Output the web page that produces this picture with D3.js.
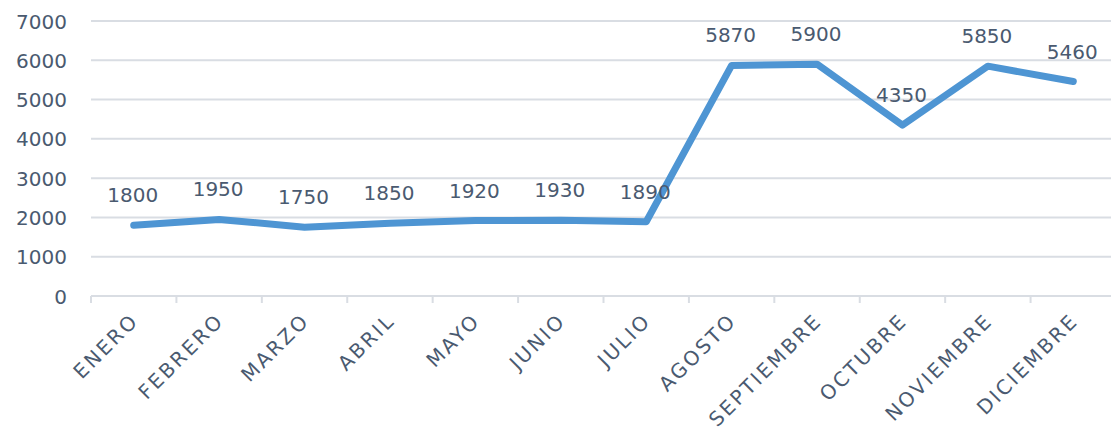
<!DOCTYPE html>
<html><head><meta charset="utf-8">
<script src="https://cdn.jsdelivr.net/npm/d3@7"></script>
<style>
body{margin:0;background:#fff;}
svg text{font-family:"DejaVu Sans",sans-serif;fill:#4a5a70;}
</style></head>
<body><svg id="c" width="1111" height="431"></svg>
<script>
const months = ["ENERO","FEBRERO","MARZO","ABRIL","MAYO","JUNIO","JULIO","AGOSTO","SEPTIEMBRE","OCTUBRE","NOVIEMBRE","DICIEMBRE"];
const values = [1800,1950,1750,1850,1920,1930,1890,5870,5900,4350,5850,5460];
const yTicks = [0,1000,2000,3000,4000,5000,6000,7000];

(function(){
const svg = d3.select("#c");
const mLeft = 91, mRight = 1116, mTop = 21, mBottom = 296;
const x = d3.scaleBand().domain(months).range([mLeft, mRight]);
const y = d3.scaleLinear().domain([0,7000]).range([mBottom, mTop]);

svg.append("g").selectAll("line").data(yTicks.filter(d=>d>0)).join("line")
  .attr("x1", mLeft).attr("x2", 1111)
  .attr("y1", d=>y(d)).attr("y2", d=>y(d))
  .attr("stroke", "#d9dde3").attr("stroke-width", 2);

const yAxis = svg.append("g").attr("transform", `translate(${mLeft},0)`)
  .call(d3.axisLeft(y).tickValues(yTicks).tickSize(0).tickPadding(24).tickFormat(d3.format("d")));
yAxis.select(".domain").remove();
yAxis.selectAll("text").style("font-size","20px").attr("dy","0.35em");

svg.append("line").attr("x1", mLeft).attr("x2", 1111).attr("y1", mBottom).attr("y2", mBottom)
  .attr("stroke", "#d9dde3").attr("stroke-width", 2);
const bounds = months.map(m => x(m)).concat([mRight]);
svg.append("g").selectAll("line").data(bounds).join("line")
  .attr("x1", d=>d).attr("x2", d=>d).attr("y1", mBottom).attr("y2", mBottom+7)
  .attr("stroke", "#d9dde3").attr("stroke-width", 2);

svg.append("g").selectAll("text").data(months).join("text")
  .attr("transform", d => `translate(${x(d)+x.bandwidth()/2+6},${mBottom+26}) rotate(-45)`)
  .attr("text-anchor","end")
  .style("font-size","20px")
  .style("letter-spacing","2.4px")
  .text(d=>d);

const line = d3.line().x((d,i)=>x(months[i])+x.bandwidth()/2).y(d=>y(d));
svg.append("path").datum(values)
  .attr("d", line).attr("fill","none")
  .attr("stroke","#4e95d3").attr("stroke-width",7)
  .attr("stroke-linejoin","round").attr("stroke-linecap","round");

svg.append("g").selectAll("text").data(values).join("text")
  .attr("x",(d,i)=>x(months[i])+x.bandwidth()/2 - 1)
  .attr("y",d=>y(d)-23)
  .attr("text-anchor","middle")
  .style("font-size","20px")
  .text(d=>d);
})();
</script></body></html>
